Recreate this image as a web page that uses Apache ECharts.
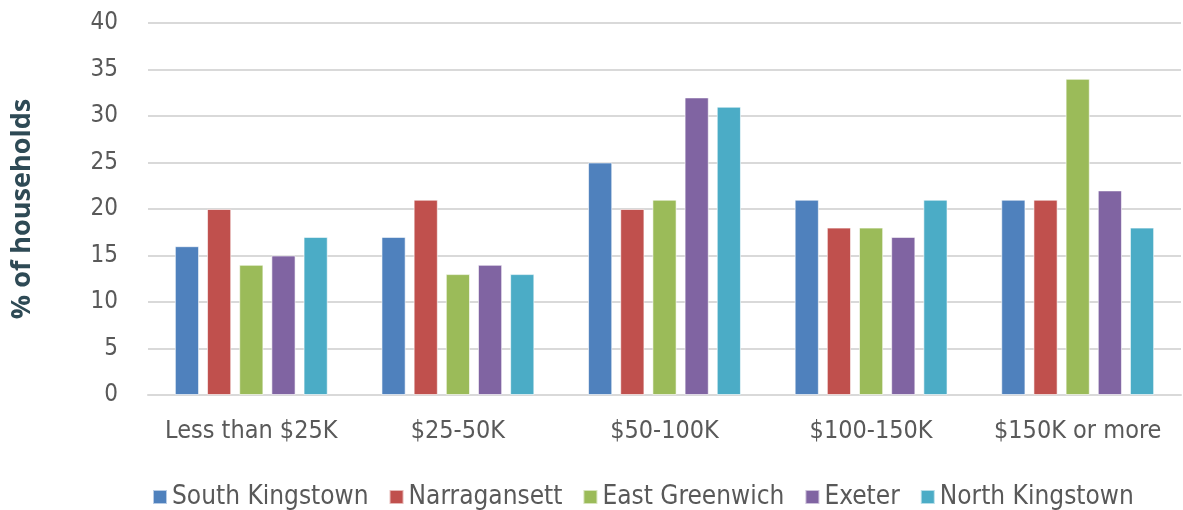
<!DOCTYPE html>
<html>
<head>
<meta charset="utf-8">
<script src="https://cdn.jsdelivr.net/npm/echarts@6/dist/echarts.min.js"></script>
<style>
  html, body { margin: 0; padding: 0; background: #fff; }
  #chart { width: 1183px; height: 510px; }
</style>
</head>
<body>
<div id="chart"></div>
<script>
// Household income distribution by town (% of households)
const categories = ['Less than $25K', '$25-50K', '$50-100K', '$100-150K', '$150K or more'];
const southKingstown = [16, 17, 25, 21, 21];
const narragansett   = [20, 21, 20, 18, 21];
const eastGreenwich  = [14, 13, 21, 18, 34];
const exeter         = [15, 14, 32, 17, 22];
const northKingstown = [17, 13, 31, 21, 18];

const seriesDefs = [
  { name: 'South Kingstown', data: southKingstown, color: '#4F81BD' },
  { name: 'Narragansett',    data: narragansett,   color: '#C0504D' },
  { name: 'East Greenwich',  data: eastGreenwich,  color: '#9BBB59' },
  { name: 'Exeter',          data: exeter,         color: '#8064A2' },
  { name: 'North Kingstown', data: northKingstown, color: '#4BACC6' }
];

const chart = echarts.init(document.getElementById('chart'), null, { renderer: 'canvas' });
const labelFont = '"DejaVu Sans Condensed", "Liberation Sans Narrow", sans-serif';

chart.setOption({
  animation: false,
  color: seriesDefs.map(s => s.color),
  grid: { left: 148, right: 2, top: 23, bottom: 115, containLabel: false },
  legend: {
    bottom: 0,
    left: 152,
    padding: 0,
    itemWidth: 14,
    itemHeight: 14,
    itemGap: 20,
    icon: 'rect',
    textStyle: { fontFamily: labelFont, fontSize: 26, color: '#595959' }
  },
  xAxis: {
    type: 'category',
    data: categories,
    axisLine: { lineStyle: { color: '#d9d9d9', width: 2 } },
    axisTick: { show: false },
    axisLabel: { interval: 0, fontFamily: labelFont, fontSize: 25, color: '#595959', margin: 24 }
  },
  yAxis: {
    type: 'value',
    min: 0,
    max: 40,
    interval: 5,
    name: '% of households',
    nameLocation: 'middle',
    nameGap: 112,
    nameTextStyle: { fontFamily: '"Open Sans", sans-serif', fontWeight: 'bold', fontSize: 27, color: '#2E4A55' },
    axisLine: { show: false },
    axisTick: { show: false },
    axisLabel: { fontFamily: labelFont, fontSize: 24, color: '#595959', margin: 30 },
    splitLine: { lineStyle: { color: '#d9d9d9', width: 2 } }
  },
  series: seriesDefs.map(s => ({
    name: s.name,
    type: 'bar',
    data: s.data,
    barGap: '33%',
    barCategoryGap: '26%',
    itemStyle: { color: s.color, borderColor: 'rgba(255,255,255,0.6)', borderWidth: 1 }
  }))
});
</script>
</body>
</html>
